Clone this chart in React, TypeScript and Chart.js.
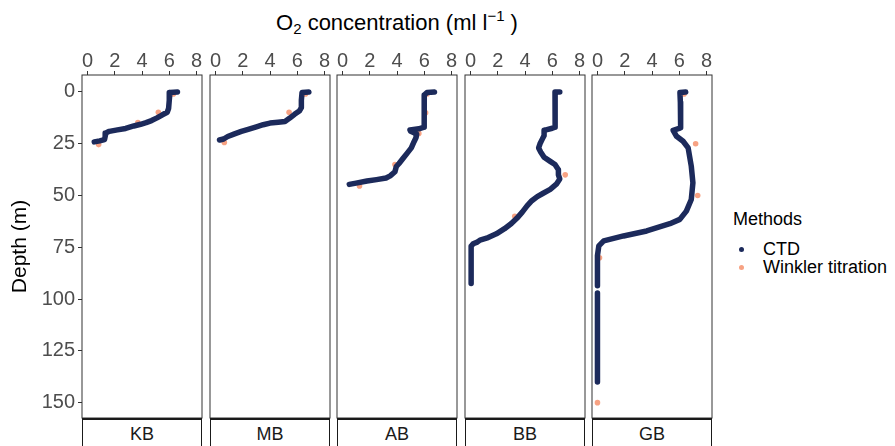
import React, { useEffect, useRef } from "react";
import { Chart, registerables } from "chart.js";
Chart.register(...registerables);

// ---------- data ----------
const stations = ["KB", "MB", "AB", "BB", "GB"];
const xTicks = [0, 2, 4, 6, 8];
const yTicks = [0, 25, 50, 75, 100, 125, 150];
const methods = ["CTD", "Winkler titration"];

const kbCtdO2 = [6.6, 6.05, 6.0, 5.95, 5.85, 5.5, 5.1, 4.7, 4.3, 3.9, 3.4, 2.8, 2.2, 1.6, 1.35, 1.3, 1.25, 0.9, 0.5];
const kbCtdDepth = [0, 0.2, 4, 8, 9.8, 11, 12.5, 13.8, 14.8, 15.6, 16.4, 17.6, 18.3, 19, 19.8, 21.5, 23, 23.6, 24.1];
const kbWinklerO2 = [6.3, 5.2, 3.7, 0.82];
const kbWinklerDepth = [1, 9.8, 14.8, 25.4];

const mbCtdO2 = [6.85, 6.35, 6.3, 6.3, 6.15, 5.8, 5.45, 5.1, 4.6, 4.0, 3.5, 3.0, 2.4, 1.9, 1.4, 0.9, 0.6, 0.3];
const mbCtdDepth = [0, 0.3, 4, 7.5, 9.2, 10.8, 12.6, 14.2, 14.6, 15, 15.8, 16.8, 18, 19, 20.2, 21.5, 22.7, 23.2];
const mbWinklerO2 = [6.6, 5.4, 0.65];
const mbWinklerDepth = [1, 9.8, 24.4];

const abCtdO2 = [6.75, 6.2, 6.0, 6.0, 5.99, 5.6, 4.95, 5.0, 5.45, 5.4, 5.25, 5.05, 4.75, 4.45, 4.15, 3.95, 3.85, 3.5, 3.2, 2.5, 1.8, 1.0, 0.5];
const abCtdDepth = [0, 0.3, 1.5, 10, 17, 17.8, 18.3, 19, 20.3, 22, 24, 27, 29.5, 32, 34.5, 36, 38.5, 40.5, 41.5, 42.3, 43, 44, 44.6];
const abWinklerO2 = [6.2, 6.1, 5.6, 3.85, 1.25];
const abWinklerDepth = [1, 10, 20, 35, 45.4];

const bbCtdO2 = [6.55, 6.2, 6.2, 6.22, 6.0, 5.4, 5.4, 5.25, 5.1, 5.0, 5.15, 5.4, 5.85, 6.2, 6.45, 6.45, 6.55, 6.3, 5.85, 5.3, 4.9, 4.5, 4.15, 3.8, 3.4, 3.0, 2.5, 1.9, 1.3, 0.7, 0.5, 0.2, 0.05, 0.05, 0.05];
const bbCtdDepth = [0, 0, 5, 17, 17.5, 18.5, 21, 23, 25, 27, 29, 31.5, 33.5, 35, 37.5, 40, 42, 44.5, 47, 49, 50.5, 52.5, 55, 58, 61, 63.5, 66, 68.5, 70.3, 71.5, 72.5, 73.3, 74.5, 80, 92.5];
const bbWinklerO2 = [6.95, 3.25];
const bbWinklerDepth = [40, 60];

const gbCtdO2 = [6.47, 6.05, 6.08, 6.1, 5.55, 5.8, 6.28, 6.65, 6.88, 7.0, 6.88, 6.52, 6.04, 5.31, 3.61, 1.91, 0.46, 0.1, 0.0, 0.0, null, 0.0, 0.0];
const gbCtdDepth = [0, 0.3, 5, 17.3, 18.5, 21.4, 23.8, 27, 35.8, 43.8, 51.9, 57.5, 61.5, 63.6, 67.1, 69.5, 71.9, 74.3, 79, 93.6, null, 97.1, 140];
const gbWinklerO2 = [6.35, 7.2, 7.35, 0.15, 0.0];
const gbWinklerDepth = [1, 25, 50, 80, 150];

const ctdO2 = [kbCtdO2, mbCtdO2, abCtdO2, bbCtdO2, gbCtdO2];
const ctdDepth = [kbCtdDepth, mbCtdDepth, abCtdDepth, bbCtdDepth, gbCtdDepth];
const winklerO2 = [kbWinklerO2, mbWinklerO2, abWinklerO2, bbWinklerO2, gbWinklerO2];
const winklerDepth = [kbWinklerDepth, mbWinklerDepth, abWinklerDepth, bbWinklerDepth, gbWinklerDepth];

// ---------- style / layout ----------
const NAVY = "#1C2A5B";
const SALMON = "#F7A283";
const FONT = "'Liberation Sans', Arial, Helvetica, sans-serif";
const PANEL_LEFT0 = 82;
const PANEL_STEP = 127.5;
const PANEL_W = 120;
const AREA_TOP = 75;
const AREA_BOTTOM = 419;
const CANVAS_TOP = 30;
const PAD_SIDE = 8;
const PAD_RIGHT = 6;
const PAD_BOTTOM = 3;

const borderPlugin = {
  id: "panelBorder",
  afterDatasetsDraw(chart: any) {
    const { ctx, chartArea: a } = chart;
    ctx.save();
    ctx.strokeStyle = "#333333";
    ctx.lineWidth = 1;
    ctx.strokeRect(a.left, a.top, a.right - a.left, a.bottom - a.top);
    ctx.restore();
  },
};

function toPoints(xs: (number | null)[], ys: (number | null)[]) {
  return xs.map((x, k) => ({ x: x === null ? NaN : x, y: ys[k] === null ? NaN : ys[k] }));
}

function Panel({ index }: { index: number }) {
  const ref = useRef<HTMLCanvasElement>(null);
  const panelLeft = Math.round(PANEL_LEFT0 + index * PANEL_STEP);
  const first = index === 0;
  const canvasLeft = first ? 0 : panelLeft - PAD_SIDE;
  const width = panelLeft + PANEL_W + PAD_RIGHT - canvasLeft;
  const height = AREA_BOTTOM + PAD_BOTTOM - CANVAS_TOP;

  useEffect(() => {
    if (!ref.current) return;
    const chart = new Chart(ref.current, {
      type: "scatter",
      data: {
        datasets: [
          {
            label: methods[0],
            data: toPoints(ctdO2[index], ctdDepth[index]),
            showLine: true,
            borderColor: NAVY,
            backgroundColor: NAVY,
            borderWidth: 5.5,
            borderCapStyle: "round",
            borderJoinStyle: "round",
            pointRadius: 0,
            pointHoverRadius: 0,
            spanGaps: false,
            tension: 0,
          },
          {
            label: methods[1],
            data: toPoints(winklerO2[index], winklerDepth[index]),
            showLine: false,
            pointRadius: 2.8,
            pointBackgroundColor: SALMON,
            pointBorderWidth: 0,
            backgroundColor: SALMON,
          },
        ],
      } as any,
      options: {
        responsive: false,
        animation: false,
        events: [],
        layout: {
          padding: { left: first ? 0 : PAD_SIDE, right: PAD_RIGHT, top: 0, bottom: PAD_BOTTOM },
        },
        plugins: { legend: { display: false }, tooltip: { enabled: false }, title: { display: false } },
        scales: {
          x: {
            type: "linear",
            position: "top",
            min: -0.4,
            max: 8.4,
            afterBuildTicks: (s: any) => {
              s.ticks = xTicks.map((v) => ({ value: v }));
            },
            afterFit: (s: any) => {
              s.height = AREA_TOP - CANVAS_TOP;
              s.paddingLeft = 0;
              s.paddingRight = 0;
            },
            ticks: {
              autoSkip: false,
              maxRotation: 0,
              padding: 0,
              color: "#4D4D4D",
              font: { family: FONT, size: 20, lineHeight: 1 },
            },
            grid: { display: true, drawOnChartArea: false, drawTicks: true, tickLength: 4, color: "#333333" },
            border: { display: false },
          },
          y: {
            type: "linear",
            reverse: true,
            min: -8.2,
            max: 157.4,
            display: first,
            afterBuildTicks: (s: any) => {
              s.ticks = yTicks.map((v) => ({ value: v }));
            },
            afterFit: (s: any) => {
              s.width = first ? PANEL_LEFT0 : 0;
              s.paddingTop = 0;
              s.paddingBottom = 0;
            },
            ticks: {
              autoSkip: false,
              padding: 3,
              color: "#4D4D4D",
              font: { family: FONT, size: 20, lineHeight: 1 },
            },
            title: {
              display: true,
              text: "Depth (m)",
              color: "#000000",
              font: { family: FONT, size: 21 },
              padding: { top: 8, bottom: 0 },
            },
            grid: { display: true, drawOnChartArea: false, drawTicks: true, tickLength: 4, color: "#333333" },
            border: { display: false },
          },
        },
      } as any,
      plugins: [borderPlugin],
    });
    return () => chart.destroy();
  }, [index]);

  return (
    <>
      <canvas
        ref={ref}
        width={width}
        height={height}
        style={{ position: "absolute", left: canvasLeft, top: CANVAS_TOP, width, height }}
      />
      <div
        style={{
          position: "absolute",
          left: panelLeft,
          top: AREA_BOTTOM - 1,
          width: PANEL_W,
          height: 32,
          boxSizing: "border-box",
          border: "1.5px solid #1A1A1A",
          borderTopWidth: 2,
          background: "#FFFFFF",
          fontFamily: FONT,
          fontSize: 18,
          color: "#1A1A1A",
          textAlign: "center",
          lineHeight: "28px",
        }}
      >
        {stations[index]}
      </div>
    </>
  );
}

export default function App() {
  return (
    <div
      style={{
        position: "absolute",
        left: 0,
        top: 0,
        width: 895,
        height: 446,
        overflow: "hidden",
        background: "#FFFFFF",
        fontFamily: FONT,
      }}
    >
      <div
        style={{
          position: "absolute",
          left: 82,
          width: 630,
          top: 9,
          textAlign: "center",
          fontSize: 22,
          color: "#000000",
          lineHeight: "28px",
          whiteSpace: "nowrap",
        }}
      >
        O<sub style={{ fontSize: 15, verticalAlign: "-4px", lineHeight: 0 }}>2</sub> concentration (ml l
        <sup style={{ fontSize: 15, verticalAlign: "9px", lineHeight: 0 }}>−1</sup> )
      </div>
      {stations.map((s, i) => (
        <Panel key={s} index={i} />
      ))}
      <div style={{ position: "absolute", left: 733, top: 208, fontSize: 18, color: "#000000", lineHeight: "22px" }}>
        Methods
      </div>
      {methods.map((m, i) => (
        <div key={m} style={{ position: "absolute", left: 737, top: 238 + i * 18, height: 22, whiteSpace: "nowrap" }}>
          <span
            style={{
              position: "absolute",
              left: 2,
              top: 8.5,
              width: 5,
              height: 5,
              borderRadius: "50%",
              background: i === 0 ? NAVY : SALMON,
            }}
          />
          <span style={{ position: "absolute", left: 26, top: 0, fontSize: 18, lineHeight: "22px", color: "#000000" }}>
            {m}
          </span>
        </div>
      ))}
    </div>
  );
}
